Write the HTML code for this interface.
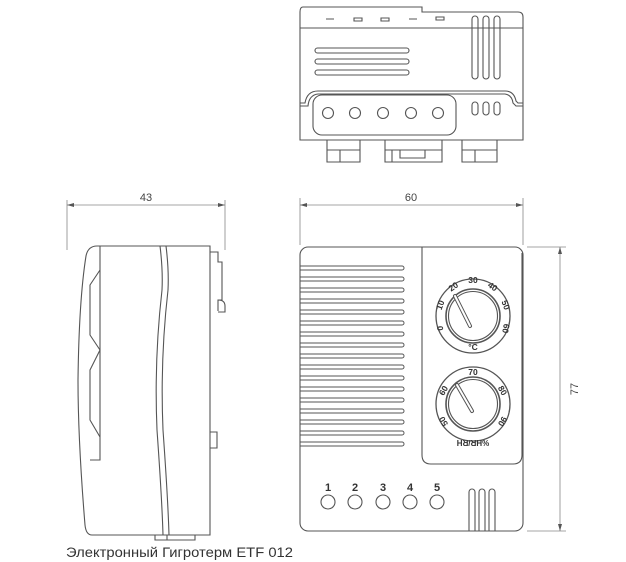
<!DOCTYPE html>
<html><head><meta charset="utf-8"><style>
html,body{margin:0;padding:0;background:#fff;}
svg{display:block;}
</style></head><body>
<svg width="626" height="562" viewBox="0 0 626 562" xmlns="http://www.w3.org/2000/svg" font-family="Liberation Sans, sans-serif">
<g fill="none" stroke="#555" stroke-width="1.1">
<path d="M303 7 H422 V12 H518 Q523 12 523 17 V140 H300 V12 Q300 7 303 7 Z"/>
<line x1="300" y1="28" x2="523" y2="28"/>
<path d="M300 103 H305 Q307 91 318 91 H505 Q514 91 516 101 L518 103 H523"/>
<path d="M300 106 H308 Q309 95 318 94 H505 Q512 95 513 103 L516 106 H523"/>
<rect x="313" y="95" width="143" height="40" rx="9"/>
<circle cx="328" cy="113" r="5.5"/><circle cx="355" cy="113" r="5.5"/><circle cx="383" cy="113" r="5.5"/><circle cx="411" cy="113" r="5.5"/><circle cx="438" cy="113" r="5.5"/>
<rect x="472" y="102" width="6" height="13" rx="3"/><rect x="483" y="102" width="6" height="13" rx="3"/><rect x="494" y="102" width="6" height="13" rx="3"/>
<rect x="315" y="48" width="94" height="5" rx="2.5"/><rect x="315" y="59" width="94" height="5" rx="2.5"/><rect x="315" y="70" width="94" height="5" rx="2.5"/>
<rect x="472" y="16" width="6" height="63" rx="3"/><rect x="483" y="16" width="6" height="63" rx="3"/><rect x="494" y="16" width="6" height="63" rx="3"/>
<path d="M326 19 h8 M354 18 h8 v3 h-8z M381 18 h8 v3 h-8z M409 19 h8 M436 17 h8 v3 h-8z"/>
<path d="M327 140 v22 h33 v-22 M340 150 v12 M327 150 h33"/>
<path d="M385 140 v22 h57 v-22 M392 150 v12 M400 150 v8 h25 v-8 M385 150 h57"/>
<path d="M462 140 v22 h35 v-22 M475 150 v12 M462 150 h35"/>

<rect x="300" y="247" width="223" height="284" rx="8"/>
<path d="M422 247 V455 Q422 464 431 464 H513 Q522 464 522 455 V253"/>
<circle cx="328" cy="502" r="7"/><circle cx="355" cy="502" r="7"/><circle cx="383" cy="502" r="7"/><circle cx="410" cy="502" r="7"/><circle cx="437" cy="502" r="7"/>
<path d="M469 531 V492 a3 3 0 0 1 6 0 V531 M479 531 V492 a3 3 0 0 1 6 0 V531 M489 531 V492 a3 3 0 0 1 6 0 V531"/>
<circle cx="473" cy="316" r="37" stroke-width="1.3"/>
<circle cx="473" cy="316" r="27" stroke-width="1.6"/>
<circle cx="473" cy="316" r="24.5"/>
<path d="M455 296 L470 326" stroke-width="4" stroke-linecap="round"/>
<path d="M455 296 L470 326" stroke="#fff" stroke-width="2" stroke-linecap="round"/>
<circle cx="473" cy="404" r="37" stroke-width="1.3"/>
<circle cx="473" cy="404" r="27" stroke-width="1.6"/>
<circle cx="473" cy="404" r="24.5"/>
<path d="M457 385 L472 411" stroke-width="4" stroke-linecap="round"/>
<path d="M457 385 L472 411" stroke="#fff" stroke-width="2" stroke-linecap="round"/>

<path d="M97 246 H210 V535 H92 Q86 535 85 525 Q78 440 78 380 Q79 300 86 256 Q88 246 97 246 Z"/>
<path d="M100 246 V460 H90"/>
<path d="M100 270 L90 285 V335 L100 350 L90 370 V420 L100 437"/>
<path d="M160 246 Q163 270 162 290 Q154 360 157 430 Q162 500 163 535 M166 246 Q169 270 168 290 Q160 360 163 430 Q168 500 169 535"/>
<path d="M210 252 H218 V262 H222 V300 H218 V311 M218 300 Q225 300 225 306 V312 H218"/>
<path d="M210 432 H217 V448 H210"/>
<path d="M155 535 V540 H195 V535 M167 535 V540"/>
</g>
<g fill="none" stroke="#555" stroke-width="1">
<path d="M300 266 H402 a2 2 0 0 1 0 4 H300 M300 277 H402 a2 2 0 0 1 0 4 H300 M300 288 H402 a2 2 0 0 1 0 4 H300 M300 299 H402 a2 2 0 0 1 0 4 H300 M300 310 H402 a2 2 0 0 1 0 4 H300 M300 321 H402 a2 2 0 0 1 0 4 H300 M300 332 H402 a2 2 0 0 1 0 4 H300 M300 343 H402 a2 2 0 0 1 0 4 H300 M300 354 H402 a2 2 0 0 1 0 4 H300 M300 365 H402 a2 2 0 0 1 0 4 H300 M300 376 H402 a2 2 0 0 1 0 4 H300 M300 387 H402 a2 2 0 0 1 0 4 H300 M300 398 H402 a2 2 0 0 1 0 4 H300 M300 409 H402 a2 2 0 0 1 0 4 H300 M300 420 H402 a2 2 0 0 1 0 4 H300 M300 431 H402 a2 2 0 0 1 0 4 H300 M300 442 H402 a2 2 0 0 1 0 4 H300"/>
</g>
<g stroke="#888" stroke-width="0.8" fill="none">
<path d="M67 200 V250 M225 200 V250 M67 205 H225"/>
<path d="M300 198 V245 M523 198 V245 M300 205 H523"/>
<path d="M527 247 H566 M527 531 H566 M560 247 V531"/>
</g>
<g fill="#555">
<path d="M67 205 l7 -2 v4z M225 205 l-7 -2 v4z M300 205 l7 -2 v4z M523 205 l-7 -2 v4z M560 247 l-2 7 h4z M560 531 l-2 -7 h4z"/>
</g>
<g fill="#444" font-size="11" text-anchor="middle">
<text x="146" y="201">43</text>
<text x="411" y="201">60</text>
<text transform="translate(578 389) rotate(-90)">77</text>
</g>
<g fill="#333" font-size="11" font-weight="bold" text-anchor="middle">
<text x="328" y="491">1</text><text x="355" y="491">2</text><text x="383" y="491">3</text><text x="410" y="491">4</text><text x="437" y="491">5</text>
</g>
<g fill="#333" font-size="8.5" font-weight="bold" text-anchor="middle">
<text transform="translate(443 328) rotate(-95)">0</text>
<text transform="translate(443 306) rotate(-70)">10</text>
<text transform="translate(455 289) rotate(-35)">20</text>
<text transform="translate(473 283)">30</text>
<text transform="translate(491 289) rotate(35)">40</text>
<text transform="translate(503 306) rotate(70)">50</text>
<text transform="translate(503 328) rotate(100)">60</text>
<text x="473" y="350">°C</text>
<text transform="translate(446 392) rotate(-60)">60</text>
<text transform="translate(473 375)">70</text>
<text transform="translate(500 392) rotate(60)">80</text>
<text transform="translate(446 420) rotate(-120)">50</text>
<text transform="translate(500 420) rotate(120)">90</text>
<text transform="translate(473 440) rotate(180)" font-size="8">%HR/RH</text>
</g>
<text x="66" y="557" font-size="13.5" fill="#333" textLength="227" lengthAdjust="spacingAndGlyphs">Электронный Гигротерм ETF 012</text>
</svg>
</body></html>
